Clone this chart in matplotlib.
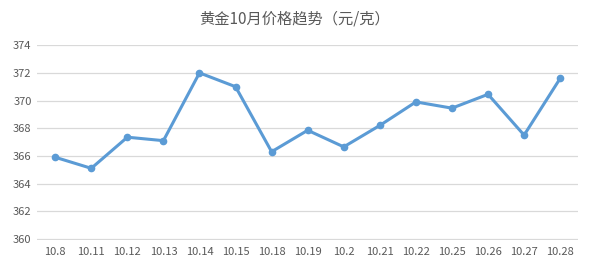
import matplotlib.pyplot as plt

plt.rcParams['font.family'] = ['Noto Sans CJK SC', 'DejaVu Sans']

# 日期与金价（元/克）
dates = ['10.8', '10.11', '10.12', '10.13', '10.14', '10.15', '10.18', '10.19',
         '10.2', '10.21', '10.22', '10.25', '10.26', '10.27', '10.28']
prices = [365.9, 365.1, 367.35, 367.1, 372.0, 371.0, 366.3, 367.85,
          366.65, 368.2, 369.9, 369.45, 370.45, 367.5, 371.6]
yticks = [360, 362, 364, 366, 368, 370, 372, 374]

fig = plt.figure(figsize=(5.9, 2.65), dpi=100)
ax = fig.add_axes([0.063, 0.096, 0.917, 0.736])

x = range(len(dates))
ax.plot(x, prices, color='#5B9BD5', linewidth=2.2, marker='o', markersize=4.5, zorder=3)

ax.set_xlim(-0.5, len(dates) - 0.5)
ax.set_ylim(359.95, 374.05)
ax.set_yticks(yticks)
ax.set_xticks(list(x))
ax.set_xticklabels(dates)
ax.grid(axis='y', color='#D9D9D9', linewidth=0.9)
ax.set_axisbelow(True)
for s in ax.spines.values():
    s.set_visible(False)
ax.tick_params(length=0, labelsize=8, colors='#595959')
ax.tick_params(axis='x', pad=5)
ax.tick_params(axis='y', pad=4)

fig.text(0.5, 0.93, '黄金10月价格趋势（元/克）', ha='center', va='center',
         fontsize=11, color='#595959')

fig.savefig('out.png', dpi=100)
